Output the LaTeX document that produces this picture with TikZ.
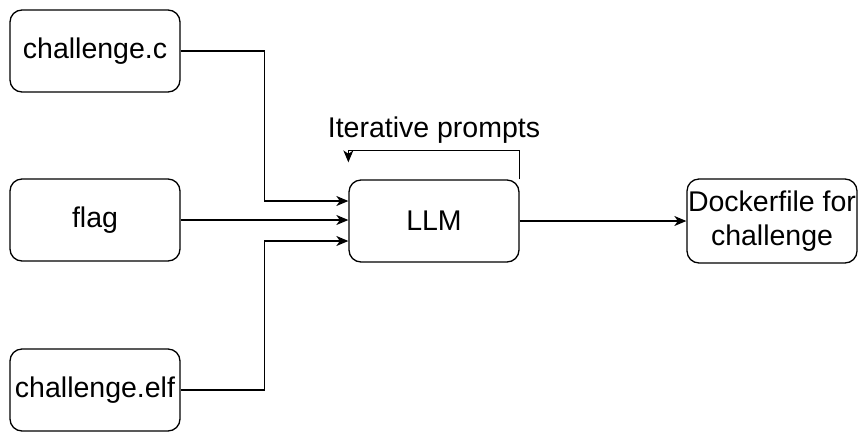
\documentclass[tikz,border=0pt]{standalone}
\usepackage{fontspec}
\setmainfont{Liberation Sans}
\usetikzlibrary{arrows.meta}
\begin{document}
\begin{tikzpicture}[x=1pt,y=-1pt,
  box/.style={draw,line width=1.3pt,rounded corners=12pt,minimum width=170pt,minimum height=82pt,inner sep=0pt,align=center,font=\fontsize{28.5}{34}\selectfont},
  arr/.style={line width=1.3pt,-{Stealth[length=12pt,width=10pt,inset=3.5pt]}},
  lbl/.style={font=\fontsize{28.5}{34}\selectfont,inner sep=0pt}]
\useasboundingbox (0,0) rectangle (858,432);
\node[box] (c) at (95,51) {challenge.c};
\node[box] (flag) at (95,220) {flag};
\node[box] (elf) at (95,390) {challenge.elf};
\node[box] (llm) at (434,221) {LLM};
\node[box,minimum height=84pt] (dock) at (772,221) {Dockerfile for\\challenge};
\node[lbl] (it) at (434,130) {Iterative prompts};
\draw[arr] (c.east) -- ++(84,0) |- ([yshift=20pt]llm.west);
\draw[arr] (flag.east) -- (flag.east -| llm.west);
\draw[arr] (elf.east) -- ++(84,0) |- ([yshift=-20pt]llm.west);
\draw[arr] (llm.east) -- (dock.west);
\draw[arr] (llm.north east) -- ++(0,-29) -| ([yshift=17pt]llm.north west);
\end{tikzpicture}
\end{document}
